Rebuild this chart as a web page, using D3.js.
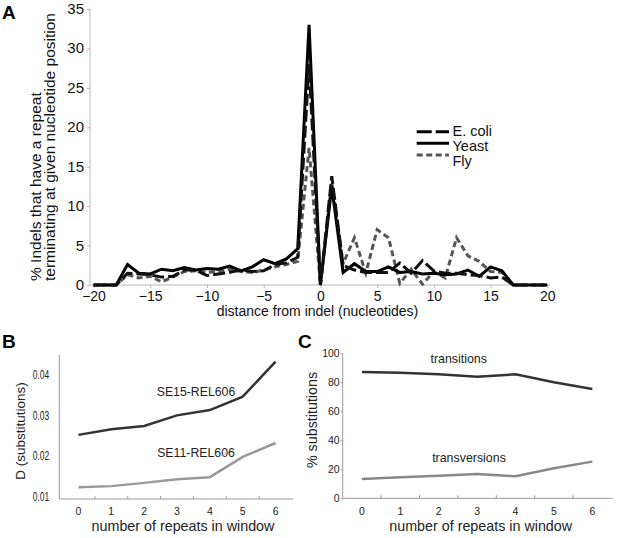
<!DOCTYPE html>
<html><head><meta charset="utf-8">
<script src="https://cdn.jsdelivr.net/npm/d3@7"></script>
<style>body{margin:0;background:#fff}svg{display:block;font-family:"Liberation Sans",Arial,sans-serif}</style>
</head><body><svg id="c" width="620" height="538"></svg>
<script>
// ---------- Panel A data ----------
const positions = [-20,-19,-18,-17,-16,-15,-14,-13,-12,-11,-10,-9,-8,-7,-6,-5,-4,-3,-2,-1,0,1,2,3,4,5,6,7,8,9,10,11,12,13,14,15,16,17,18,19,20];
const ecoli = [0,0,0,1.5,1.4,1.3,1.0,1.1,1.9,1.9,1.2,1.4,1.6,1.9,1.7,1.8,2.6,2.8,3.5,28,0,13.8,2.5,1.9,1.6,1.6,1.6,2.8,1.5,3.1,1.8,1.5,1.5,1.3,1.2,0.9,1.0,0,0,0,0];
const yeast = [0,0,0,2.6,1.5,1.4,2.0,1.8,2.2,1.9,2.1,2.0,2.4,1.8,2.3,3.2,2.7,3.3,4.6,33,0,12.5,1.6,2.7,1.7,1.7,2.3,1.6,1.7,1.4,1.5,1.3,1.4,1.9,1.1,2.3,1.8,0,0,0,0];
const fly = [0,0,0,1.3,0.9,1.1,0.4,1.0,1.7,1.8,1.6,1.7,2.0,1.7,1.6,1.9,2.3,2.6,3.0,17.4,0,13.0,2.7,6.0,1.5,7.0,6.0,0.2,2.0,0.1,1.7,0.9,6.0,3.7,3.0,1.7,1.6,0,0,0,0];
const aXTicks = [-20,-15,-10,-5,0,5,10,15,20];
const aYTicks = [0,5,10,15,20,25,30,35];
const aSeriesNames = ["E. coli","Yeast","Fly"];
// ---------- Panel B data ----------
const repeats = ["0","1","2","3","4","5","6"];
const se15 = [0.0252,0.0266,0.0274,0.0300,0.0313,0.0346,0.0432];
const se11 = [0.0123,0.0126,0.0134,0.0143,0.0148,0.0198,0.0232];
const bYTicks = [0.01,0.02,0.03,0.04];
// ---------- Panel C data ----------
const transitions = [87.1,86.6,85.5,83.9,85.5,80.0,75.4];
const transversions = [13.3,14.5,15.6,16.8,15.2,20.7,25.3];
const cYTicks = [0,20,40,60,80,100];

const svg = d3.select("#c");
const axisCol = "#b8b8b8";

// ================= Panel A =================
const ax = d3.scaleLinear().domain([-20,20]).range([93.5,547.3]);
const ay = d3.scaleLinear().domain([0,35]).range([285,9]);
const A = svg.append("g");
A.append("line").attr("x1",90).attr("x2",550).attr("y1",ay(0)).attr("y2",ay(0)).attr("stroke",axisCol);
A.append("line").attr("x1",90).attr("x2",90).attr("y1",ay(35)).attr("y2",ay(0)).attr("stroke",axisCol);
const aY = A.append("g").attr("transform","translate(90,0)")
  .call(d3.axisLeft(ay).tickValues(aYTicks).tickSize(3).tickPadding(3).tickFormat(d3.format("d")));
aY.select(".domain").remove();
aY.selectAll("line").attr("stroke",axisCol);
aY.selectAll("text").attr("font-size",15).attr("fill","#111").attr("font-family",null).attr("dy","0.3em");
const aX = A.append("g").attr("transform",`translate(0,${ay(0)})`)
  .call(d3.axisBottom(ax).tickValues(aXTicks).tickSize(3).tickPadding(3).tickFormat(d3.format("d")));
aX.select(".domain").remove();
aX.selectAll("line").attr("stroke",axisCol);
aX.selectAll("text").attr("font-size",14).attr("fill","#111").attr("font-family",null);

const aLine = d3.line().x((d,i)=>ax(positions[i])).y(d=>ay(d));
A.append("path").datum(fly).attr("d",aLine).attr("fill","none").attr("stroke","#555").attr("stroke-width",3).attr("stroke-dasharray","6,3.5");
A.append("path").datum(yeast).attr("d",aLine).attr("fill","none").attr("stroke","#000").attr("stroke-width",3);
A.append("path").datum(ecoli).attr("d",aLine).attr("fill","none").attr("stroke","#111").attr("stroke-width",3).attr("stroke-dasharray","12,4");

// legend
const legStyles = [
  {c:"#000",dash:"15,4",y:131.7,ty:135.5},
  {c:"#000",dash:null,y:143.3,ty:150.5},
  {c:"#555",dash:"6,3.5",y:155,ty:165.5}
];
aSeriesNames.forEach((n,i)=>{
  const s = legStyles[i];
  A.append("line").attr("x1",416.7).attr("x2",449).attr("y1",s.y).attr("y2",s.y)
    .attr("stroke",s.c).attr("stroke-width",3).attr("stroke-dasharray",s.dash);
  A.append("text").attr("x",452.5).attr("y",s.ty).attr("font-size",14.5).attr("fill","#111").text(n);
});

// titles
A.append("text").attr("x",317.5).attr("y",316).attr("text-anchor","middle").attr("font-size",14).attr("fill","#111")
  .text("distance from indel (nucleotides)");
A.append("text").attr("transform","translate(41,281) rotate(-90)").attr("font-size",15.5).attr("fill","#111")
  .text("% Indels that have a repeat");
A.append("text").attr("transform","translate(55,281) rotate(-90)").attr("font-size",15.5).attr("fill","#111")
  .text("terminating at given nucleotide position");
svg.append("text").attr("x",2).attr("y",19).attr("font-size",19).attr("font-weight","bold").text("A");

// ================= Panel B =================
const bx = d3.scaleBand().domain(repeats).range([62,292]);
const by = d3.scaleLinear().domain([0.01,0.04]).range([496.7,374.7]);
const B = svg.append("g");
const bAxisCol = "#999";
const bBottom = 499;
B.append("line").attr("x1",59.3).attr("x2",293).attr("y1",bBottom).attr("y2",bBottom).attr("stroke",bAxisCol);
B.append("line").attr("x1",59.3).attr("x2",59.3).attr("y1",by(0.0449)).attr("y2",bBottom).attr("stroke",bAxisCol);
B.selectAll(".bt").data(repeats.slice(1)).enter().append("line")
  .attr("x1",d=>bx(d)).attr("x2",d=>bx(d)).attr("y1",bBottom-3).attr("y2",bBottom).attr("stroke",bAxisCol);
B.selectAll(".bxl").data(repeats).enter().append("text")
  .attr("x",d=>bx(d)+bx.bandwidth()/2).attr("y",515).attr("text-anchor","middle").attr("font-size",10.5).attr("fill","#222").text(d=>d);
B.selectAll(".byl").data(bYTicks).enter().append("text")
  .attr("x",49.3).attr("y",d=>by(d)).attr("dy","0.36em").attr("text-anchor","end").attr("font-size",12)
  .attr("textLength",16.5).attr("lengthAdjust","spacingAndGlyphs").attr("fill","#222").text(d=>d3.format(".2f")(d));
const bLine = d3.line().x((d,i)=>bx(repeats[i])+bx.bandwidth()/2).y(d=>by(d));
B.append("path").datum(se15).attr("d",bLine).attr("fill","none").attr("stroke","#333").attr("stroke-width",2.5);
B.append("path").datum(se11).attr("d",bLine).attr("fill","none").attr("stroke","#999").attr("stroke-width",2.5);
B.append("text").attr("x",196).attr("y",396).attr("text-anchor","middle").attr("font-size",12.3).attr("fill","#222").text("SE15-REL606");
B.append("text").attr("x",196).attr("y",456.7).attr("text-anchor","middle").attr("font-size",12.3).attr("fill","#222").text("SE11-REL606");
B.append("text").attr("x",183).attr("y",531).attr("text-anchor","middle").attr("font-size",14.3).attr("fill","#222").text("number of repeats in window");
B.append("text").attr("transform","translate(25,431) rotate(-90)").attr("text-anchor","middle").attr("font-size",13.5).attr("fill","#222").text("D (substitutions)");
svg.append("text").attr("x",2).attr("y",348).attr("font-size",19).attr("font-weight","bold").text("B");

// ================= Panel C =================
const cx = d3.scaleBand().domain(repeats).range([342.7,611.5]);
const cy = d3.scaleLinear().domain([0,100]).range([498.3,353.3]);
const C = svg.append("g");
C.append("line").attr("x1",342.7).attr("x2",613).attr("y1",cy(0)).attr("y2",cy(0)).attr("stroke",bAxisCol);
const cY = C.append("g").attr("transform","translate(342.7,0)")
  .call(d3.axisLeft(cy).tickValues(cYTicks).tickSize(2).tickPadding(1));
cY.selectAll("line").attr("stroke",bAxisCol);
cY.select(".domain").attr("stroke",bAxisCol).attr("d",`M0,${cy(100)}V${cy(0)}`);
cY.selectAll("text").attr("font-size",10.5).attr("fill","#222").attr("font-family",null);
C.selectAll(".ct").data(repeats.slice(1)).enter().append("line")
  .attr("x1",d=>cx(d)).attr("x2",d=>cx(d)).attr("y1",cy(0)-3).attr("y2",cy(0)).attr("stroke",bAxisCol);
C.selectAll(".cxl").data(repeats).enter().append("text")
  .attr("x",d=>cx(d)+cx.bandwidth()/2).attr("y",515).attr("text-anchor","middle").attr("font-size",10.5).attr("fill","#222").text(d=>d);
const cLine = d3.line().x((d,i)=>cx(repeats[i])+cx.bandwidth()/2).y(d=>cy(d));
C.append("path").datum(transitions).attr("d",cLine).attr("fill","none").attr("stroke","#333").attr("stroke-width",2.5);
C.append("path").datum(transversions).attr("d",cLine).attr("fill","none").attr("stroke","#888").attr("stroke-width",2.5);
C.append("text").attr("x",458.7).attr("y",362.7).attr("text-anchor","middle").attr("font-size",12.4).attr("fill","#222").text("transitions");
C.append("text").attr("x",469).attr("y",461.7).attr("text-anchor","middle").attr("font-size",12.4).attr("fill","#222").text("transversions");
C.append("text").attr("x",480.7).attr("y",531).attr("text-anchor","middle").attr("font-size",14.3).attr("fill","#222").text("number of repeats in window");
C.append("text").attr("transform","translate(317,420) rotate(-90)").attr("text-anchor","middle").attr("font-size",14.3).attr("fill","#222").text("% substitutions");
svg.append("text").attr("x",298).attr("y",348).attr("font-size",19).attr("font-weight","bold").text("C");
</script>
</body></html>
